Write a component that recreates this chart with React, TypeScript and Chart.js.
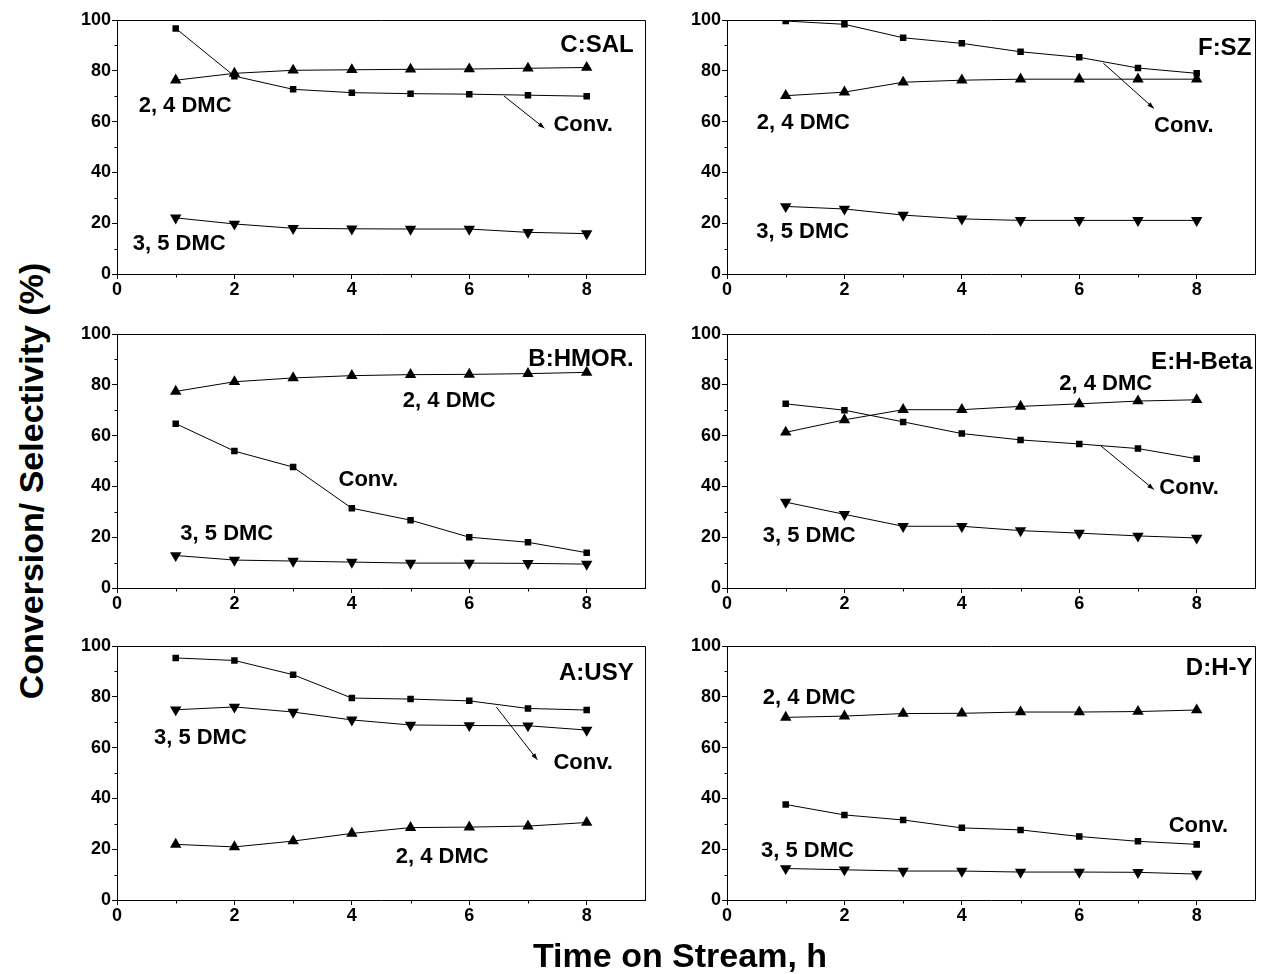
import React, { useEffect, useRef } from "react";
import { Chart, registerables } from "chart.js";

Chart.register(...registerables);

// ---- shared axes ----
const hours = [1, 2, 3, 4, 5, 6, 7, 8];
const xTickLabels = [0, 2, 4, 6, 8];
const xMinorTicks = [1, 3, 5, 7];
const yTickLabels = [0, 20, 40, 60, 80, 100];
const yMinorTicks = [10, 30, 50, 70, 90];

// ---- C:SAL ----
const salConv = [96.7, 77.9, 72.7, 71.4, 71.0, 70.8, 70.4, 70.0];
const sal24 = [76.3, 79.0, 80.2, 80.4, 80.6, 80.7, 81.0, 81.3];
const sal35 = [22.1, 19.7, 18.0, 17.8, 17.7, 17.7, 16.4, 15.9];
// ---- F:SZ ----
const szConv = [99.6, 98.3, 93.0, 90.8, 87.5, 85.3, 81.1, 79.0];
const sz24 = [70.2, 71.6, 75.5, 76.3, 76.7, 76.7, 76.7, 76.7];
const sz35 = [26.6, 25.6, 23.2, 21.7, 21.1, 21.1, 21.1, 21.1];
// ---- B:HMOR. ----
const hmorConv = [64.7, 53.9, 47.6, 31.4, 26.7, 20.0, 18.0, 13.9];
const hmor24 = [77.4, 81.2, 82.7, 83.6, 84.0, 84.1, 84.4, 84.9];
const hmor35 = [12.8, 11.0, 10.6, 10.2, 9.8, 9.8, 9.7, 9.4];
// ---- E:H-Beta ----
const betaConv = [72.5, 70.0, 65.4, 60.8, 58.3, 56.7, 54.9, 50.9];
const beta24 = [61.3, 66.2, 70.2, 70.2, 71.5, 72.5, 73.6, 74.1];
const beta35 = [33.8, 29.0, 24.3, 24.3, 22.6, 21.6, 20.5, 19.7];
// ---- A:USY ----
const usyConv = [95.3, 94.3, 88.7, 79.5, 79.1, 78.4, 75.4, 74.8];
const usy24 = [21.9, 20.9, 23.2, 26.2, 28.5, 28.7, 29.1, 30.5];
const usy35 = [74.9, 76.0, 74.0, 70.9, 68.9, 68.7, 68.6, 66.9];
// ---- D:H-Y ----
const hyConv = [37.6, 33.5, 31.5, 28.4, 27.6, 25.0, 23.1, 21.9];
const hy24 = [71.9, 72.4, 73.4, 73.5, 74.0, 74.0, 74.2, 74.8];
const hy35 = [12.4, 11.9, 11.4, 11.4, 11.0, 11.0, 10.9, 10.2];

const FONT = '"Liberation Sans", Arial, Helvetica, sans-serif';

type Label = { text: string; x: number; y: number; align?: CanvasTextAlign; big?: boolean };
type Arrow = { x1: number; y1: number; x2: number; y2: number };
type Panel = {
  left: number;
  top: number;
  conv: number[];
  s24: number[];
  s35: number[];
  labels: Label[];
  arrow?: Arrow;
};

const PLOT_W = 533;
const PLOT_H = 254;
const AY_W = 62;
const AX_H = 36;
const PAD_T = 14;
const PAD_R = 2;

const panels: Panel[] = [
  {
    left: 117, top: 20, conv: salConv, s24: sal24, s35: sal35,
    labels: [
      { text: "C:SAL", x: 8.8, y: 90, align: "right", big: true },
      { text: "2, 4 DMC", x: 1.16, y: 66 },
      { text: "3, 5 DMC", x: 1.06, y: 12 },
      { text: "Conv.", x: 7.94, y: 58.8 },
    ],
    arrow: { x1: 6.59, y1: 70.1, x2: 7.28, y2: 57.4 },
  },
  {
    left: 727, top: 20, conv: szConv, s24: sz24, s35: sz35,
    labels: [
      { text: "F:SZ", x: 8.93, y: 89, align: "right", big: true },
      { text: "2, 4 DMC", x: 1.3, y: 59.6 },
      { text: "3, 5 DMC", x: 1.29, y: 16.6 },
      { text: "Conv.", x: 7.78, y: 58.3 },
    ],
    arrow: { x1: 6.41, y1: 83.0, x2: 7.27, y2: 65.2 },
  },
  {
    left: 117, top: 334, conv: hmorConv, s24: hmor24, s35: hmor35,
    labels: [
      { text: "B:HMOR.", x: 8.8, y: 90.2, align: "right", big: true },
      { text: "2, 4 DMC", x: 5.66, y: 73.7 },
      { text: "Conv.", x: 4.28, y: 42.4 },
      { text: "3, 5 DMC", x: 1.87, y: 21.1 },
    ],
  },
  {
    left: 727, top: 334, conv: betaConv, s24: beta24, s35: beta35,
    labels: [
      { text: "E:H-Beta", x: 8.95, y: 89.0, align: "right", big: true },
      { text: "2, 4 DMC", x: 6.45, y: 80.5 },
      { text: "Conv.", x: 7.87, y: 39.2 },
      { text: "3, 5 DMC", x: 1.4, y: 20.4 },
    ],
    arrow: { x1: 6.37, y1: 55.9, x2: 7.27, y2: 38.8 },
  },
  {
    left: 117, top: 646, conv: usyConv, s24: usy24, s35: usy35,
    labels: [
      { text: "A:USY", x: 8.8, y: 89.4, align: "right", big: true },
      { text: "3, 5 DMC", x: 1.42, y: 63.7 },
      { text: "Conv.", x: 7.94, y: 54.0 },
      { text: "2, 4 DMC", x: 5.54, y: 17.0 },
    ],
    arrow: { x1: 6.46, y1: 76.0, x2: 7.16, y2: 55.2 },
  },
  {
    left: 727, top: 646, conv: hyConv, s24: hy24, s35: hy35,
    labels: [
      { text: "D:H-Y", x: 8.95, y: 91.0, align: "right", big: true },
      { text: "2, 4 DMC", x: 1.4, y: 79.5 },
      { text: "Conv.", x: 8.03, y: 29.0 },
      { text: "3, 5 DMC", x: 1.37, y: 19.4 },
    ],
  },
];

function makeDecoPlugin(p: Panel) {
  return {
    id: "panelDeco",
    afterDraw(chart: any) {
      const { ctx, chartArea: a } = chart;
      const xs = chart.scales.x;
      const ys = chart.scales.y;
      ctx.save();
      ctx.strokeStyle = "#000";
      ctx.lineWidth = 1;
      // frame
      const l = Math.round(a.left) + 0.5;
      const t = Math.round(a.top) + 0.5;
      const r = Math.round(a.right) + 0.5;
      const b = Math.round(a.bottom) + 0.5;
      ctx.beginPath();
      ctx.moveTo(l, t);
      ctx.lineTo(r, t);
      ctx.lineTo(r, b);
      ctx.stroke();
      // minor ticks
      ctx.beginPath();
      for (const v of xMinorTicks) {
        const px = Math.round(xs.getPixelForValue(v)) + 0.5;
        ctx.moveTo(px, b);
        ctx.lineTo(px, b + 3);
      }
      for (const v of yMinorTicks) {
        const py = Math.round(ys.getPixelForValue(v)) + 0.5;
        ctx.moveTo(l, py);
        ctx.lineTo(l - 3, py);
      }
      ctx.stroke();
      // labels
      ctx.fillStyle = "#000";
      ctx.textBaseline = "middle";
      for (const lb of p.labels) {
        ctx.font = `bold ${lb.big ? 24 : 22}px ${FONT}`;
        ctx.textAlign = lb.align || "center";
        ctx.fillText(lb.text, xs.getPixelForValue(lb.x), ys.getPixelForValue(lb.y));
      }
      // arrow
      if (p.arrow) {
        const x1 = xs.getPixelForValue(p.arrow.x1);
        const y1 = ys.getPixelForValue(p.arrow.y1);
        const x2 = xs.getPixelForValue(p.arrow.x2);
        const y2 = ys.getPixelForValue(p.arrow.y2);
        ctx.beginPath();
        ctx.moveTo(x1, y1);
        ctx.lineTo(x2, y2);
        ctx.stroke();
        const ang = Math.atan2(y2 - y1, x2 - x1);
        const hl = 7;
        ctx.beginPath();
        ctx.moveTo(x2, y2);
        ctx.lineTo(x2 - hl * Math.cos(ang - 0.35), y2 - hl * Math.sin(ang - 0.35));
        ctx.lineTo(x2 - hl * Math.cos(ang + 0.35), y2 - hl * Math.sin(ang + 0.35));
        ctx.closePath();
        ctx.fill();
      }
      ctx.restore();
    },
  };
}

function PanelChart({ p }: { p: Panel }) {
  const ref = useRef<HTMLCanvasElement | null>(null);
  useEffect(() => {
    if (!ref.current) return;
    const tickFont = { family: FONT, size: 18, weight: "bold" as const };
    const mk = (data: number[], style: any, rot: number, radius: number) => ({
      data: hours.map((h, i) => ({ x: h, y: data[i] })),
      borderColor: "#000",
      borderWidth: 1,
      backgroundColor: "#000",
      pointBackgroundColor: "#000",
      pointBorderColor: "#000",
      pointBorderWidth: 0,
      pointStyle: style,
      pointRotation: rot,
      pointRadius: radius,
      showLine: true,
      tension: 0,
      fill: false,
    });
    const chart = new Chart(ref.current, {
      type: "scatter",
      data: {
        datasets: [
          mk(p.conv, "rect", 0, 4.6),
          mk(p.s24, "triangle", 0, 6.6),
          mk(p.s35, "triangle", 180, 6.6),
        ],
      },
      options: {
        animation: false,
        responsive: false,
        maintainAspectRatio: false,
        events: [],
        layout: { padding: { left: 0, top: PAD_T, right: PAD_R, bottom: 0 } },
        plugins: { legend: { display: false }, tooltip: { enabled: false }, title: { display: false } },
        scales: {
          x: {
            type: "linear",
            min: 0,
            max: 9,
            afterBuildTicks: (s: any) => {
              s.ticks = xTickLabels.map((v) => ({ value: v }));
            },
            ticks: { font: tickFont, color: "#000", padding: 0, maxRotation: 0, autoSkip: false },
            grid: { drawOnChartArea: false, drawTicks: true, tickLength: 5, color: "#000", lineWidth: 1 },
            border: { display: true, color: "#000", width: 1 },
            afterFit: (s: any) => {
              s.height = AX_H;
            },
          },
          y: {
            type: "linear",
            min: 0,
            max: 100,
            afterBuildTicks: (s: any) => {
              s.ticks = yTickLabels.map((v) => ({ value: v }));
            },
            ticks: { font: tickFont, color: "#000", padding: 1, autoSkip: false },
            grid: { drawOnChartArea: false, drawTicks: true, tickLength: 5, color: "#000", lineWidth: 1 },
            border: { display: true, color: "#000", width: 1 },
            afterFit: (s: any) => {
              s.width = AY_W;
            },
          },
        },
      } as any,
      plugins: [makeDecoPlugin(p)],
    });
    return () => chart.destroy();
  }, [p]);
  const w = AY_W + PLOT_W + PAD_R;
  const h = PAD_T + PLOT_H + AX_H;
  return (
    <canvas
      ref={ref}
      width={w}
      height={h}
      style={{ position: "absolute", left: p.left - AY_W, top: p.top - PAD_T, width: w, height: h }}
    />
  );
}

export default function App() {
  return (
    <div
      style={{
        position: "absolute",
        left: 0,
        top: 0,
        width: 1263,
        height: 974,
        background: "#fff",
        overflow: "hidden",
        fontFamily: FONT,
      }}
    >
      {panels.map((p, i) => (
        <PanelChart key={i} p={p} />
      ))}
      <div
        style={{
          position: "absolute",
          left: 31 - 250,
          top: 481 - 20,
          width: 500,
          height: 40,
          lineHeight: "40px",
          textAlign: "center",
          fontWeight: "bold",
          fontSize: 34,
          transform: "rotate(-90deg)",
          whiteSpace: "nowrap",
          color: "#000",
        }}
      >
        Conversion/ Selectivity (%)
      </div>
      <div
        style={{
          position: "absolute",
          left: 680 - 250,
          top: 955 - 20,
          width: 500,
          height: 40,
          lineHeight: "40px",
          textAlign: "center",
          fontWeight: "bold",
          fontSize: 34,
          whiteSpace: "nowrap",
          color: "#000",
        }}
      >
        Time on Stream, h
      </div>
    </div>
  );
}
